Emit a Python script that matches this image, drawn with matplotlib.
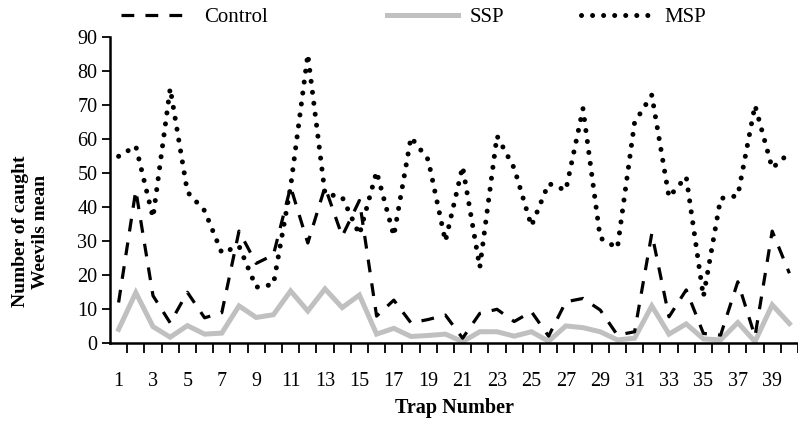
import numpy as np
import matplotlib
matplotlib.use("Agg")
import matplotlib.pyplot as plt
from matplotlib.lines import Line2D

plt.rcParams['font.family'] = ['Liberation Serif', 'DejaVu Serif']

traps = np.arange(1, 41)
control = [12, 45, 14, 6, 15, 7.5, 9, 33, 23.5, 26, 46, 29.5, 46, 31.5, 42, 8, 12.7, 6, 7, 8.3,
           1.5, 8.8, 10, 6.4, 9.3, 2.1, 12.2, 13.2, 9.8, 2.4, 3.4, 32.3, 7.8, 15.7, 2.9, 2.4, 18.1, 2, 33, 20.6]
ssp = [4.1, 14.9, 4.9, 1.8, 5.2, 2.7, 3, 11, 7.6, 8.4, 15.4, 9.5, 16, 10.5, 14.2, 2.7, 4.4, 2, 2.3, 2.7,
       0.5, 3.4, 3.4, 2.1, 3.4, 0.6, 5.1, 4.6, 3.4, 1, 1.5, 11, 2.7, 5.7, 1.3, 1, 6.1, 0.5, 11.3, 5.8]
msp = [55, 58, 37, 75, 44.5, 39, 26.6, 28.6, 16.5, 17.3, 46, 85, 44, 43, 32, 50.5, 31.6, 60.6, 54, 30,
       52, 22.3, 61, 51.5, 34.5, 47, 45, 69, 31, 28, 65, 73, 43, 49, 13.7, 42.6, 43.4, 70, 51.5, 56]
y_ticks = [0, 10, 20, 30, 40, 50, 60, 70, 80, 90]
x_labels = list(range(1, 40, 2))

fig = plt.figure(figsize=(7.98, 4.21), dpi=100)
ax = fig.add_axes([110/798, 77.7/421, 688/798, 306/421])

ax.plot(traps, ssp, color="#c0c0c0", lw=3.6, solid_joinstyle="miter", zorder=2)
l_ctrl, = ax.plot(traps, control, color="black", lw=2.3, linestyle=(0, (4, 3.5)), zorder=3)
l_msp, = ax.plot(traps, msp, color="black", lw=3.6, linestyle=(0, (0.01, 2.2)),
                 dash_capstyle="round", zorder=4)

ax.set_xlim(0.5, 40.3)
ax.set_ylim(0, 90)
ax.set_yticks(y_ticks)
ax.set_xticks(np.arange(1.5, 41, 1))
ax.set_xticklabels([])
ax.set_xticks(x_labels, minor=True)
ax.set_xticklabels([str(v) for v in x_labels], minor=True)
ax.tick_params(axis="x", which="major", direction="out", length=7, width=1.3)
ax.tick_params(axis="x", which="minor", length=0, pad=21, labelsize=14.5)
ax.tick_params(axis="y", direction="out", length=6, width=1.3, labelsize=14.5, pad=3)
for s in ["top", "right"]:
    ax.spines[s].set_visible(False)
for s in ["left", "bottom"]:
    ax.spines[s].set_linewidth(1.8)
ax.spines["left"].set_bounds(0, 90)

ax.set_xlabel("Trap Number", fontsize=14.5, fontweight="bold", labelpad=5)
fig.text(0.038, 0.45, "Number of caught\nWeevils mean", rotation=90, fontsize=14,
         fontweight="bold", ha="center", va="center", multialignment="center")

# legend entries, spread along the top
ssp_handle = Line2D([], [], color="#c0c0c0", lw=3.6)
entries = [(l_ctrl, "Control", 122), (ssp_handle, "SSP", 388), (l_msp, "MSP", 582)]
for h, lab, px in entries:
    fig.legend(handles=[h], labels=[lab], loc="center left",
               bbox_to_anchor=(px/798 - 0.012, 1 - 17/421), frameon=False,
               fontsize=15, handlelength=3.4, handletextpad=0.6, borderaxespad=0)

fig.savefig("out.png", dpi=100)
